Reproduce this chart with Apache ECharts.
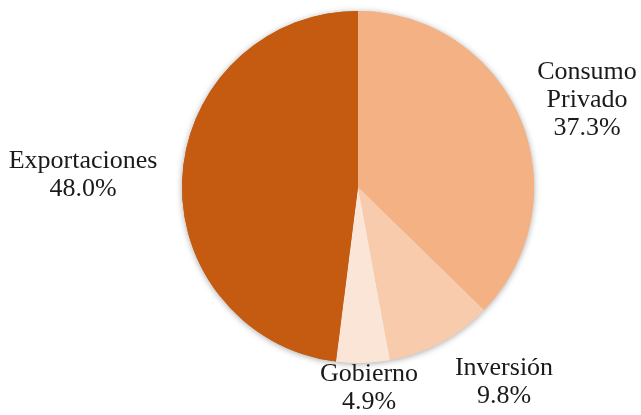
<!DOCTYPE html>
<html><head><meta charset="utf-8">
<script src="https://cdn.jsdelivr.net/npm/echarts@6/dist/echarts.min.js"></script>
<style>html,body{margin:0;padding:0;background:#fff}#c{width:641px;height:415px}</style>
</head><body><div id="c"></div>
<script>
const categories = ['Consumo Privado', 'Inversión', 'Gobierno', 'Exportaciones'];
const values = [37.3, 9.8, 4.9, 48.0];
const colors = ['#F4B183', '#F8CBAD', '#FBE5D6', '#C55A11'];
// label centres (layout only)
const labelCenters = [[587, 100], [504, 382], [369, 388], [83, 175]];

const data = categories.map((c, i) => ({ name: c, value: values[i], itemStyle: { color: colors[i] } }));
const chart = echarts.init(document.getElementById('c'), null, { renderer: 'canvas' });
chart.setOption({
  animation: false,
  series: [
    {
      type: 'pie', silent: true, z: 1,
      center: [358, 187], radius: 176, startAngle: 90, clockwise: true,
      label: { show: false }, labelLine: { show: false },
      itemStyle: { shadowBlur: 6, shadowColor: 'rgba(0,0,0,0.35)', shadowOffsetX: 0, shadowOffsetY: 1 },
      data: data
    },
    {
      type: 'pie', z: 2,
      center: [358, 187], radius: 176, startAngle: 90, clockwise: true,
      itemStyle: { borderWidth: 0 },
      label: {
        show: true, position: 'outside', overflow: 'none', width: 200,
        fontFamily: 'Liberation Serif', fontSize: 26, lineHeight: 28, color: '#1a1a1a',
        align: 'center',
        formatter: p => p.name.split(' ').join('\n') + '\n' + p.value.toFixed(1) + '%'
      },
      labelLine: { show: false },
      labelLayout: p => ({ x: labelCenters[p.dataIndex][0], y: labelCenters[p.dataIndex][1], align: 'center', verticalAlign: 'middle' }),
      data: data
    }
  ]
});
</script></body></html>
